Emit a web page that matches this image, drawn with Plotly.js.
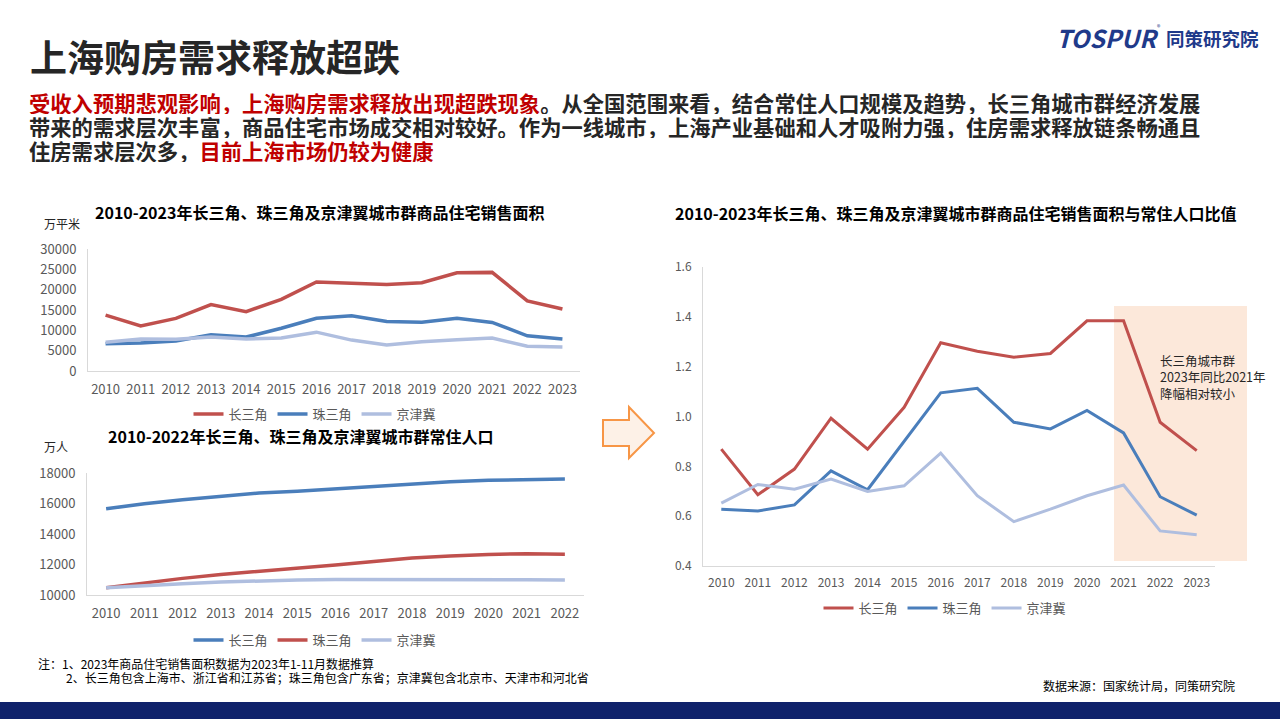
<!DOCTYPE html>
<html>
<head>
<meta charset="utf-8">
<script src="https://cdn.plot.ly/plotly-3.0.1.min.js"></script>
<style>
html,body{margin:0;padding:0;background:#fff;}
#chart{width:1280px;height:719px;}
</style>
</head>
<body>
<div id="chart"></div>
<script>
// ---------- DATA ----------
const years1 = ['2010','2011','2012','2013','2014','2015','2016','2017','2018','2019','2020','2021','2022','2023'];
const years2 = ['2010','2011','2012','2013','2014','2015','2016','2017','2018','2019','2020','2021','2022'];
const seriesNames = ['长三角','珠三角','京津冀'];

// 商品住宅销售面积 (万平米)
const salesYRD = [13750, 11100, 12950, 16350, 14600, 17600, 21900, 21550, 21300, 21700, 24150, 24250, 17250, 15250];
const salesPRD = [6700, 6900, 7400, 8900, 8350, 10500, 12950, 13600, 12200, 12000, 12950, 11950, 8650, 7850];
const salesJJJ = [7050, 7850, 7800, 8350, 7850, 8100, 9550, 7600, 6400, 7200, 7700, 8100, 6100, 5900];

// 常住人口 (万人)
const popYRD = [15650, 15990, 16250, 16470, 16690, 16800, 16950, 17130, 17280, 17430, 17520, 17590, 17610];
const popPRD = [10480, 10800, 11090, 11350, 11550, 11720, 11960, 12200, 12420, 12550, 12660, 12700, 12680];
const popJJJ = [10480, 10630, 10740, 10850, 10940, 10980, 11020, 11020, 11000, 11020, 11040, 11000, 10980];

// 销售面积与常住人口比值
const ratioYRD = [0.869, 0.686, 0.789, 0.993, 0.869, 1.037, 1.296, 1.262, 1.238, 1.253, 1.384, 1.384, 0.977, 0.863];
const ratioPRD = [0.628, 0.621, 0.645, 0.782, 0.706, 0.900, 1.095, 1.113, 0.977, 0.950, 1.024, 0.934, 0.678, 0.604];
const ratioJJJ = [0.652, 0.727, 0.708, 0.749, 0.699, 0.722, 0.853, 0.682, 0.578, 0.628, 0.682, 0.725, 0.541, 0.525];

// ---------- STYLE ----------
const RED = '#C0504D', BLUE = '#4A7EBB', LIGHT = '#AFBEDF';
const FONT = '"Noto Sans CJK SC", "Noto Sans", sans-serif';
const W = 1280, H = 719;
const X = p => p / W;
const Y = p => 1 - p / H;

function line(x, y, name, color, xa, ya, lg, width) {
  return {
    type: 'scatter', mode: 'lines', x: x, y: y, name: name,
    xaxis: xa, yaxis: ya, legend: lg,
    line: {color: color, width: width || 3.5},
    hoverinfo: 'x+y'
  };
}

const traces = [
  line(years1, salesYRD, seriesNames[0], RED, 'x', 'y', 'legend'),
  line(years1, salesPRD, seriesNames[1], BLUE, 'x', 'y', 'legend'),
  line(years1, salesJJJ, seriesNames[2], LIGHT, 'x', 'y', 'legend'),
  line(years2, popYRD, seriesNames[0], BLUE, 'x2', 'y2', 'legend2'),
  line(years2, popPRD, seriesNames[1], RED, 'x2', 'y2', 'legend2'),
  line(years2, popJJJ, seriesNames[2], LIGHT, 'x2', 'y2', 'legend2'),
  line(years1, ratioYRD, seriesNames[0], RED, 'x3', 'y3', 'legend3', 3),
  line(years1, ratioPRD, seriesNames[1], BLUE, 'x3', 'y3', 'legend3', 3),
  line(years1, ratioJJJ, seriesNames[2], LIGHT, 'x3', 'y3', 'legend3', 3)
];

const axisBase = {
  showline: true, linecolor: '#D9D9D9', linewidth: 1,
  showgrid: false, zeroline: false, ticks: '',
  tickfont: {family: FONT, size: 13, color: '#595959'}
};
function xax(domain, anchor, n, size) {
  return Object.assign({}, axisBase, {
    domain: domain, anchor: anchor, type: 'category',
    range: [-0.5, n - 0.5], ticklabelstandoff: 6,
    tickfont: {family: FONT, size: size, color: '#595959'}
  });
}
function yax(domain, anchor, range, dtick, size, fmt) {
  return Object.assign({}, axisBase, {
    domain: domain, anchor: anchor, range: range, dtick: dtick, tick0: range[0],
    tickformat: fmt, exponentformat: 'none', separatethousands: false,
    ticklabelstandoff: 8,
    tickfont: {family: FONT, size: size, color: '#595959'}
  });
}

function legendAt(cx, cy) {
  return {
    orientation: 'h', x: X(cx), y: Y(cy), xanchor: 'center', yanchor: 'middle',
    xref: 'paper', yref: 'paper', bgcolor: 'rgba(0,0,0,0)',
    font: {family: FONT, size: 13, color: '#595959'},
    itemwidth: 30, tracegroupgap: 0
  };
}

function ann(text, x, y, size, opts) {
  return Object.assign({
    text: text, x: X(x), y: Y(y), xref: 'paper', yref: 'paper',
    xanchor: 'left', yanchor: 'middle', showarrow: false, align: 'left',
    font: {family: FONT, size: size, color: '#262626'}
  }, opts || {});
}

const R = t => '<span style="color:#C00000">' + t + '</span>';

// arrow path (paper coordinates)
function arrowPath() {
  const pts = [[603,420],[629,420],[629,407],[654,433],[629,458],[629,446],[603,446]];
  return 'M ' + pts.map(p => X(p[0]).toFixed(5) + ',' + Y(p[1]).toFixed(5)).join(' L ') + ' Z';
}

const NAVY = '#1F3A8A';
const PARA = {height: 23, valign: 'middle', borderpad: 0};

const layout = {
  width: W, height: H,
  margin: {l: 0, r: 0, t: 0, b: 0},
  paper_bgcolor: '#FFFFFF', plot_bgcolor: 'rgba(0,0,0,0)',
  font: {family: FONT},
  showlegend: true,
  xaxis: xax([X(88), X(580)], 'y', years1.length, 13),
  yaxis: yax([Y(371), Y(249)], 'x', [0, 30000], 5000, 13, 'd'),
  xaxis2: xax([X(87), X(584)], 'y2', years2.length, 13),
  yaxis2: yax([Y(595), Y(473)], 'x2', [10000, 18000], 2000, 13, 'd'),
  xaxis3: xax([X(703), X(1215)], 'y3', years1.length, 12),
  yaxis3: yax([Y(566), Y(267)], 'x3', [0.4, 1.6], 0.2, 12, '.1f'),
  legend: legendAt(315, 414),
  legend2: legendAt(315, 640),
  legend3: legendAt(945, 608),
  shapes: [
    {type: 'rect', xref: 'paper', yref: 'paper', x0: X(1114), x1: X(1247), y0: Y(561), y1: Y(306),
     fillcolor: '#FCE8DA', line: {width: 0}, layer: 'below'},
    {type: 'path', xref: 'paper', yref: 'paper', path: arrowPath(),
     fillcolor: '#FDF1E7', line: {color: '#F79646', width: 2}},
    {type: 'rect', xref: 'paper', yref: 'paper', x0: 0, x1: 1, y0: 0, y1: Y(702),
     fillcolor: '#0F226B', line: {width: 0}}
  ],
  annotations: [
    ann('<b>上海购房需求释放超跌</b>', 28, 56, 37, {font: {family: FONT, size: 37, color: '#262626'}}),
    ann('<b>' + R('受收入预期悲观影响，上海购房需求释放出现超跌现象') + '。从全国范围来看，结合常住人口规模及趋势，长三角城市群经济发展</b>', 28, 103, 21.3, PARA),
    ann('<b>带来的需求层次丰富，商品住宅市场成交相对较好。作为一线城市，上海产业基础和人才吸附力强，住房需求释放链条畅通且</b>', 28, 127, 21.3, PARA),
    ann('<b>住房需求层次多，' + R('目前上海市场仍较为健康') + '</b>', 28, 150, 21.3, PARA),
    ann('<b><i>TOSPUR</i></b>', 1054, 37, 24.5, {font: {family: FONT, size: 24.5, color: NAVY}}),
    ann('®', 1155, 27, 7, {font: {family: FONT, size: 7, color: NAVY}}),
    ann('<b>同策研究院</b>', 1164, 38, 18.5, {font: {family: FONT, size: 18.5, color: NAVY}}),
    ann('<b>2010-2023年长三角、珠三角及京津翼城市群商品住宅销售面积</b>', 319, 212, 16,
        {xanchor: 'center', font: {family: FONT, size: 16, color: '#000000'}}),
    ann('万平米', 42, 223, 12, {font: {family: FONT, size: 12, color: '#262626'}}),
    ann('<b>2010-2022年长三角、珠三角及京津翼城市群常住人口</b>', 300, 436, 16,
        {xanchor: 'center', font: {family: FONT, size: 16, color: '#000000'}}),
    ann('万人', 42, 446, 12, {font: {family: FONT, size: 12, color: '#262626'}}),
    ann('<b>2010-2023年长三角、珠三角及京津翼城市群商品住宅销售面积与常住人口比值</b>', 955, 213, 16,
        {xanchor: 'center', font: {family: FONT, size: 16, color: '#000000'}}),
    ann('长三角城市群<br>2023年同比2021年<br>降幅相对较小', 1158, 377, 12.5,
        {font: {family: FONT, size: 12.5, color: '#262626'}}),
    ann('注：1、2023年商品住宅销售面积数据为2023年1-11月数据推算', 36, 663, 12,
        {font: {family: FONT, size: 12, color: '#000000'}}),
    ann('2、长三角包含上海市、浙江省和江苏省；珠三角包含广东省；京津冀包含北京市、天津市和河北省', 64, 677, 12,
        {font: {family: FONT, size: 12, color: '#000000'}}),
    ann('数据来源：国家统计局，同策研究院', 1237, 685, 12,
        {xanchor: 'right', font: {family: FONT, size: 12, color: '#000000'}})
  ]
};

Plotly.newPlot('chart', traces, layout, {displayModeBar: false, staticPlot: true});
</script>
</body>
</html>
